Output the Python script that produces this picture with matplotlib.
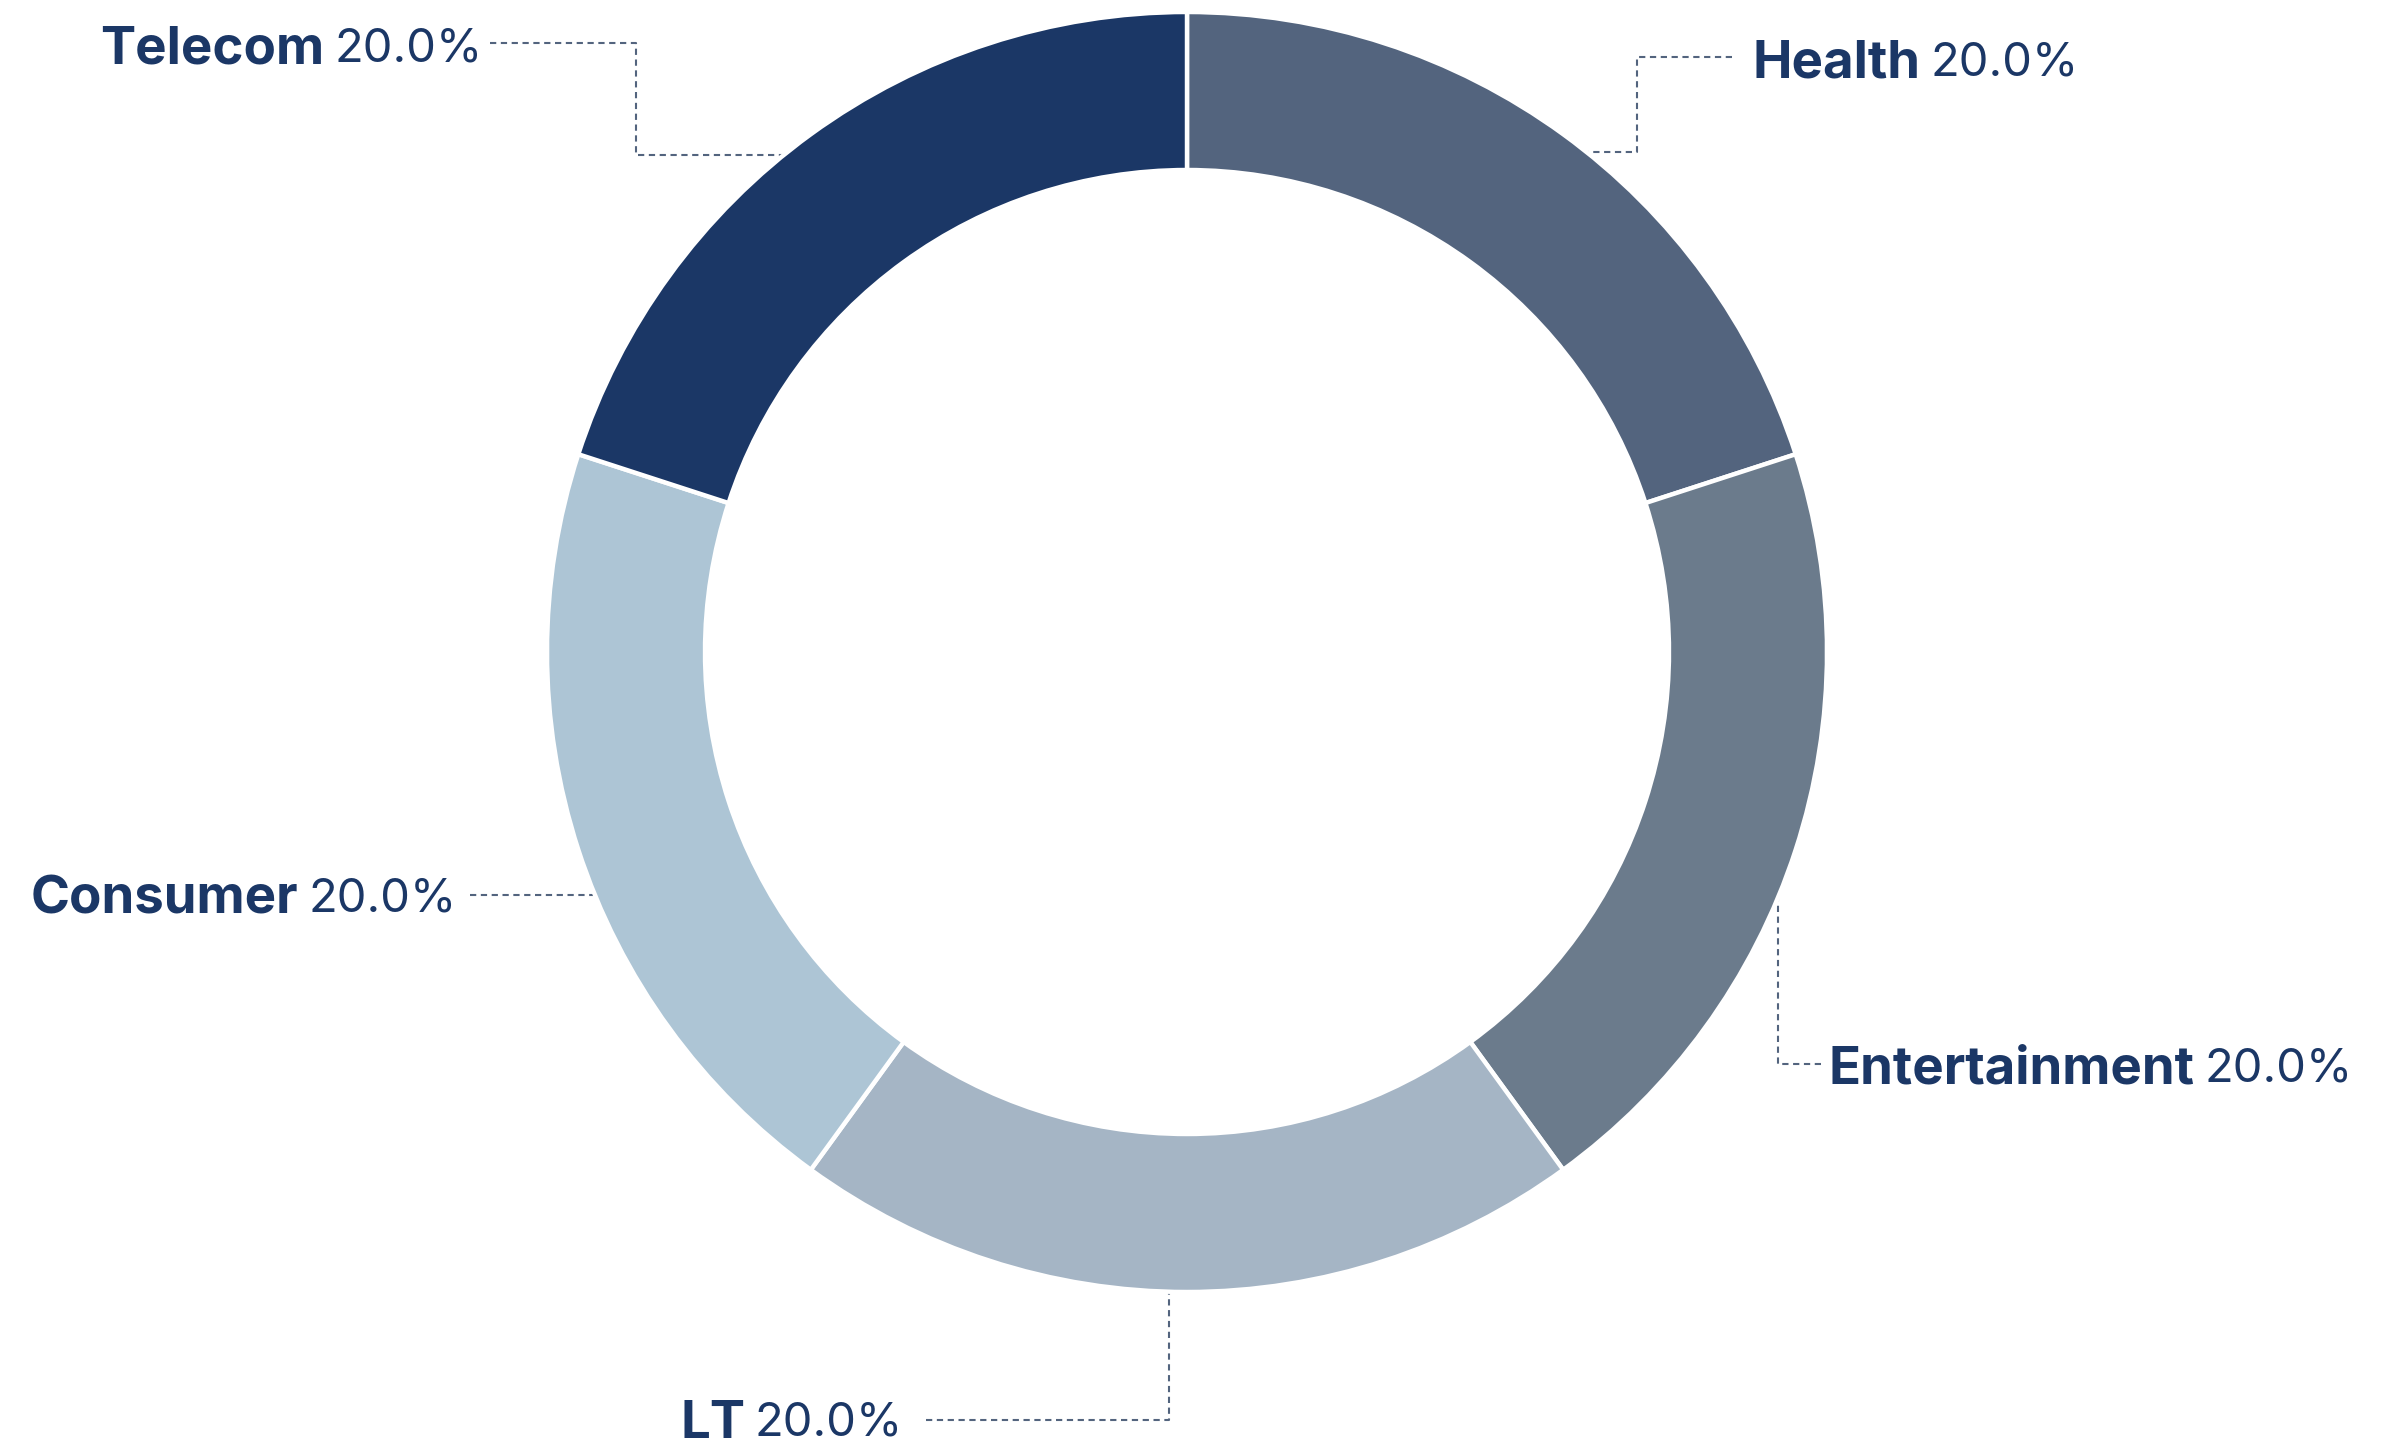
import matplotlib
matplotlib.use("Agg")
import matplotlib.pyplot as plt
import numpy as np

# ---- data ----
categories = ["Health", "Entertainment", "LT", "Consumer", "Telecom"]
values = [20.0, 20.0, 20.0, 20.0, 20.0]
colors = ["#53647e", "#6b7b8c", "#a5b5c5", "#adc5d5", "#1b3766"]

W, H = 2403, 1449
fig = plt.figure(figsize=(W / 100, H / 100), dpi=100)
ax = fig.add_axes([0, 0, 1, 1])
ax.set_xlim(0, W)
ax.set_ylim(0, H)
ax.set_aspect("equal")
ax.axis("off")

cx, cy_px = 1187, 652
cy = H - cy_px
R = 640
ring = 158

wedges, _ = ax.pie(values, colors=colors, startangle=90, counterclock=False,
                   radius=R, center=(cx, cy),
                   wedgeprops=dict(width=ring, edgecolor="white", linewidth=3.2))
for w in wedges:
    w.set_zorder(3)
ax.set_xlim(0, W)
ax.set_ylim(0, H)

TXT = "#1b3766"
LINE = "#53647e"
FS_NAME = 38
FS_PCT = 34
FONT = ["Inter", "DejaVu Sans"]

# layout (pixel coords, y from top): text left/center, leader waypoints, final direction
layout = {
    "Telecom":       dict(text=(100, 45),  pts=[(490, 43), (636, 43), (636, 155)], end="h"),
    "Health":        dict(text=(1752, 58), pts=[(1732, 57), (1637, 57), (1637, 152)], end="h"),
    "Entertainment": dict(text=(1828, 1064), pts=[(1821, 1064), (1778, 1064)], end="v"),
    "LT":            dict(text=(680, 1419), pts=[(926, 1420), (1169, 1420)], end="v"),
    "Consumer":      dict(text=(31, 895),  pts=[(470, 895)], end="h"),
}

fig.canvas.draw()
renderer = fig.canvas.get_renderer()
rin = R - 12
for name, val in zip(categories, values):
    L = layout[name]
    pts = [(x, H - y) for x, y in L["pts"]]
    lx, ly = pts[-1]
    if L["end"] == "h":
        d = np.sqrt(max(rin**2 - (ly - cy) ** 2, 0))
        ex = cx + d if lx > cx else cx - d
        pts.append((ex, ly))
    else:
        d = np.sqrt(max(rin**2 - (lx - cx) ** 2, 0))
        ey = cy + d if ly > cy else cy - d
        pts.append((lx, ey))
    xs, ys = zip(*pts)
    ax.plot(xs, ys, color=LINE, lw=1.5, ls=(0, (3, 2.2)), zorder=1)

    tx, ty = L["text"]
    t1 = ax.text(tx, H - ty, name, fontsize=FS_NAME, fontweight="bold", color=TXT,
                 family=FONT, ha="left", va="center_baseline", zorder=4)
    bb = t1.get_window_extent(renderer=renderer)
    ax.text(bb.x1 + 10, H - ty, f"{val:.1f}%", fontsize=FS_PCT, fontweight="normal",
            color=TXT, family=FONT, ha="left", va="center_baseline", zorder=4)

fig.savefig("out.png", dpi=100, facecolor="white")
